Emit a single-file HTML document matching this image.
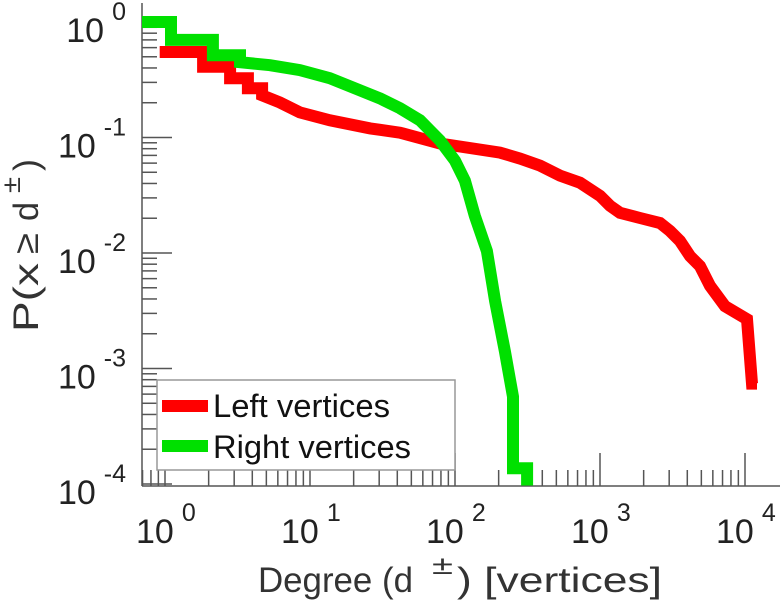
<!DOCTYPE html>
<html><head><meta charset="utf-8"><style>
html,body{margin:0;padding:0;background:#fff;}
svg{display:block;font-family:"Liberation Sans",sans-serif;}
</style></head><body>
<svg id="chart" width="782" height="600" viewBox="0 0 782 600" xmlns="http://www.w3.org/2000/svg">
<g id="axes"></g>
<g id="series"></g>
<g id="labels"></g>
<g>
  <rect x="157" y="380" width="298" height="90" fill="#fff" stroke="#999" stroke-width="1.5"/>
  <line x1="162" y1="406" x2="208" y2="406" stroke="#ff0000" stroke-width="12"/>
  <text x="213" y="417" font-size="32" fill="#111" textLength="177" lengthAdjust="spacingAndGlyphs">Left vertices</text>
  <line x1="162" y1="446" x2="208" y2="446" stroke="#00e000" stroke-width="12"/>
  <text x="213" y="458" font-size="32" fill="#111" textLength="198" lengthAdjust="spacingAndGlyphs">Right vertices</text>
</g>
<g fill="#333">
  <text x="258" y="592" font-size="35" textLength="155" lengthAdjust="spacingAndGlyphs">Degree (d</text>
  <text x="432" y="574" font-size="26" textLength="21" lengthAdjust="spacingAndGlyphs">±</text>
  <text x="457" y="592" font-size="35" textLength="205" lengthAdjust="spacingAndGlyphs">) [vertices]</text>
</g>
<g fill="#333" transform="rotate(-90)">
  <text x="-332" y="38" font-size="35" textLength="69" lengthAdjust="spacingAndGlyphs">P(x</text>
  <text x="-254" y="38" font-size="35" textLength="21" lengthAdjust="spacingAndGlyphs">≥</text>
  <text x="-221" y="38" font-size="35" textLength="19" lengthAdjust="spacingAndGlyphs">d</text>
  <text x="-193" y="20" font-size="26" textLength="16" lengthAdjust="spacingAndGlyphs">±</text>
  <text x="-171" y="38" font-size="35" textLength="12" lengthAdjust="spacingAndGlyphs">)</text>
</g>
</svg>
<script>
const leftDeg = [0.92,1.83,2.81,3.73,4.67,6.2,8.5,13.7,26,41.8,78.8,108,204,281,386,530,728,1000,1172,1374,1888,2594,3040,3563,4176,4893,5737,7278,10330,11170,12100];
const leftProb = [0.55,0.41,0.326,0.267,0.232,0.201,0.165,0.141,0.12,0.11,0.0887,0.0835,0.074,0.0657,0.0571,0.0468,0.0406,0.0313,0.0256,0.0223,0.0201,0.0182,0.0155,0.0127,0.0094,0.0077,0.0052,0.00346,0.00267,0.00074,0.00074];
const rightDeg = [0.69,1.1,2.14,3.29,5.3,8.5,13.7,22.1,30.4,41.8,57.4,78.8,100,117,137,166,189,221,251,251,314,314];
const rightProb = [1.0,0.70,0.516,0.449,0.423,0.383,0.326,0.256,0.218,0.179,0.141,0.094,0.063,0.0423,0.021,0.0104,0.00383,0.00141,0.00057,0.000137,0.000137,0.00005];
const xTickExps = ["0","1","2","3","4"];
const yTickExps = ["0","-1","-2","-3","-4"];

const NS="http://www.w3.org/2000/svg";
const X0=165, XD=145, Y0=22, YD=115.5, AX=142, AY=486, XR=780, YT=3;
function sx(v){return X0+Math.log10(v)*XD;}
function sy(v){return Y0-Math.log10(v)*YD;}
function mk(tag,attrs,parent){const e=document.createElementNS(NS,tag);for(const k in attrs)e.setAttribute(k,attrs[k]);parent.appendChild(e);return e;}
const axes=document.getElementById('axes');
const labels=document.getElementById('labels');
const series=document.getElementById('series');

const yAxis=mk('line',{x1:AX,y1:YT,x2:AX,y2:AY,stroke:'#555','stroke-width':1.5},axes);


const xAxis=mk('line',{x1:AX,y1:AY,x2:XR,y2:AY,stroke:'#555','stroke-width':1.5},axes);



for(let d=0;d>=-4;d--){
  for(let m=1;m<10;m++){
    const v=m*Math.pow(10,d); if(d===0&&m>1)continue;
    const y=sy(v); if(y>AY+1||y<YT)continue;
    const len=m===1?30:15;
    const t=mk('line',{x1:AX,y1:y,x2:AX+len,y2:y,stroke:'#555','stroke-width':1.5},axes);
    
    
  }
}
for(let d=-1;d<=4;d++){
  for(let m=1;m<10;m++){
    const v=m*Math.pow(10,d); const x=sx(v);
    if(x<AX||x>XR)continue;
    const len=m===1?33:16;
    const t=mk('line',{x1:x,y1:AY,x2:x,y2:AY-len,stroke:'#555','stroke-width':1.5},axes);
    
    
  }
}
yTickExps.forEach((e)=>{
  const y=sy(Math.pow(10,Number(e)));
  const t=mk('text',{x:126,y:y+20,'text-anchor':'end','font-size':34,fill:'#222'},labels);
  
  
  t.innerHTML='10<tspan font-size="25" dx="8" dy="-22">'+e+'</tspan>';
});
xTickExps.forEach((e)=>{
  const x=sx(Math.pow(10,Number(e)));
  const t=mk('text',{x:x-29,y:543,'font-size':34,fill:'#222'},labels);
  
  
  t.innerHTML='10<tspan font-size="25" dx="8" dy="-22">'+e+'</tspan>';
});

function curvePath(xs,ys){
  let d='M'+sx(xs[0]).toFixed(1)+','+sy(ys[0]).toFixed(1);
  for(let i=1;i<xs.length;i++){
    if(xs[i]<5 || xs[i]===xs[i-1] || ys[i]===ys[i-1] || i===xs.length-1){
      d+=' H'+sx(xs[i]).toFixed(1)+' V'+sy(ys[i]).toFixed(1);
    } else {
      d+=' L'+sx(xs[i]).toFixed(1)+','+sy(ys[i]).toFixed(1);
    }
  }
  return d;
}
const clip=mk('clipPath',{id:'plotclip'},series);
mk('rect',{x:AX,y:0,width:XR-AX,height:AY-0.5},clip);
const red=mk('path',{d:curvePath(leftDeg,leftProb),fill:'none',stroke:'#ff0000','stroke-width':12,'stroke-linejoin':'miter','clip-path':'url(#plotclip)'},series);


const green=mk('path',{d:curvePath(rightDeg,rightProb),fill:'none',stroke:'#00e000','stroke-width':12,'stroke-linejoin':'miter','clip-path':'url(#plotclip)'},series);


</script>
</body></html>
